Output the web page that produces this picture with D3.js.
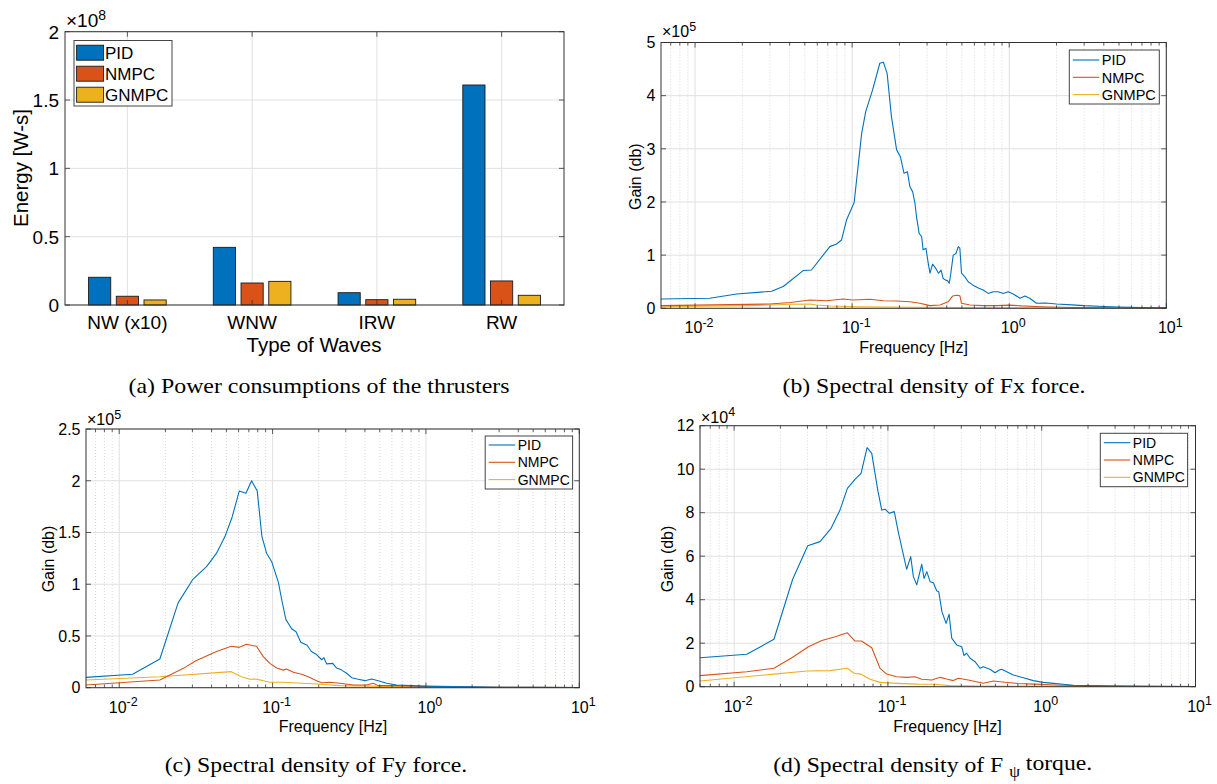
<!DOCTYPE html>
<html>
<head>
<meta charset="utf-8">
<script src="https://cdn.jsdelivr.net/npm/d3@7"></script>
<style>
  body { margin: 0; background: #fff; }
  text { font-family: "Liberation Sans", Arial, sans-serif; fill: #000; }
  text.cap { font-family: "Liberation Serif", "Times New Roman", serif; }
</style>
</head>
<body>
<svg id="fig" width="1217" height="784"></svg>
<script>
// ---------- data ----------
// (a) energy, units of 1e8 W-s
const waveTypes = ["NW (x10)", "WNW", "IRW", "RW"]
const controllers = ["PID", "NMPC", "GNMPC"]
const energyPID = [0.203, 0.422, 0.090, 1.61]
const energyNMPC = [0.064, 0.161, 0.039, 0.176]
const energyGNMPC = [0.037, 0.173, 0.042, 0.071]
const energyTicks = [0, 0.5, 1, 1.5, 2]

// (b) Fx spectral density, gain in units of 1e5
const fxFreqPID = [0.00607,0.0124,0.0184,0.0307,0.0364,0.0488,0.0551,0.0721,0.0796,0.0856,0.0921,0.103,0.109,0.115,0.122,0.135,0.150,0.158,0.167,0.178,0.192,0.203,0.214,0.225,0.233,0.243,0.251,0.257,0.267,0.277,0.283,0.295,0.305,0.313,0.325,0.341,0.355,0.368,0.380,0.394,0.405,0.415,0.425,0.440,0.458,0.474,0.485,0.497,0.522,0.548,0.585,0.635,0.683,0.735,0.791,0.851,0.916,0.985,1.06,1.17,1.26,1.35,1.49,1.7,2.0,2.5,3.0,4.0,5.0,7.0,10]
const fxGainPID = [0.175,0.188,0.27,0.32,0.41,0.71,0.72,1.16,1.21,1.285,1.66,1.99,2.66,3.29,3.70,4.11,4.61,4.63,4.42,3.60,2.98,2.85,2.54,2.57,2.29,2.19,1.98,1.72,1.41,1.35,1.10,1.13,0.85,0.66,0.83,0.75,0.66,0.72,0.56,0.53,0.52,0.47,0.66,1.00,1.03,1.16,1.13,0.66,0.59,0.50,0.44,0.38,0.345,0.28,0.31,0.31,0.28,0.31,0.27,0.19,0.23,0.19,0.094,0.10,0.08,0.065,0.05,0.035,0.025,0.012,0.008]
const fxFreqNMPC = [0.00607,0.0298,0.0404,0.0539,0.0685,0.0875,0.101,0.130,0.158,0.192,0.233,0.270,0.313,0.362,0.409,0.436,0.463,0.485,0.497,0.562,0.683,0.83,1.0,1.2,1.6,2.5,5.0,10]
const fxGainNMPC = [0.05,0.08,0.11,0.156,0.143,0.175,0.156,0.17,0.143,0.137,0.124,0.094,0.05,0.062,0.124,0.23,0.245,0.237,0.094,0.062,0.05,0.05,0.06,0.045,0.03,0.015,0.008,0.005]
const fxFreqGNMPC = [0.00607,0.0223,0.0404,0.0539,0.0593,0.072,0.107,0.257,1.0,5.0,10]
const fxGainGNMPC = [0.03,0.05,0.075,0.08,0.062,0.043,0.03,0.02,0.01,0.005,0.004]
const fxTicks = [0, 1, 2, 3, 4, 5]

// (c) Fy spectral density, gain in units of 1e5
const fyFreqPID = [0.00607,0.01222,0.0184,0.0242,0.0303,0.0371,0.0431,0.0489,0.0545,0.0606,0.0670,0.0730,0.0794,0.0852,0.0914,0.0985,0.109,0.1147,0.122,0.1331,0.1422,0.1527,0.1627,0.168,0.179,0.1935,0.209,0.216,0.2254,0.2467,0.2616,0.282,0.304,0.328,0.362,0.400,0.443,0.488,0.554,0.644,0.8,1.0,1.5,2.0,3.0,5.0,10]
const fyGainPID = [0.10,0.13,0.277,0.82,1.05,1.17,1.30,1.46,1.65,1.90,1.88,2.00,1.90,1.46,1.30,1.22,1.02,0.85,0.66,0.57,0.54,0.44,0.42,0.41,0.35,0.32,0.27,0.29,0.23,0.235,0.19,0.17,0.14,0.097,0.081,0.068,0.084,0.068,0.043,0.026,0.02,0.015,0.01,0.008,0.005,0.003,0.002]
const fyFreqNMPC = [0.00607,0.0184,0.0262,0.0316,0.0431,0.0537,0.0606,0.0676,0.0785,0.0869,0.096,0.1063,0.1175,0.123,0.1367,0.155,0.1707,0.1935,0.209,0.2365,0.2752,0.336,0.410,0.4535,0.488,0.644,1.0,2.0,5.0,10]
const fyGainNMPC = [0.026,0.074,0.187,0.26,0.35,0.40,0.39,0.42,0.40,0.30,0.235,0.19,0.17,0.18,0.15,0.13,0.106,0.068,0.048,0.052,0.043,0.026,0.026,0.043,0.02,0.02,0.012,0.006,0.003,0.002]
const fyFreqGNMPC = [0.00607,0.0184,0.0537,0.0626,0.0711,0.0766,0.0869,0.096,0.1175,0.1935,0.2752,0.644,2.0,10]
const fyGainGNMPC = [0.074,0.106,0.155,0.106,0.081,0.084,0.068,0.052,0.052,0.036,0.02,0.01,0.004,0.002]
const fyTicks = [0, 0.5, 1, 1.5, 2, 2.5]

// (d) F_psi spectral density, gain in units of 1e4
const fpFreqPID = [0.0060,0.01208,0.01816,0.02403,0.0301,0.0362,0.0427,0.0488,0.0545,0.0611,0.0669,0.0732,0.0785,0.0859,0.0912,0.0958,0.1022,0.110,0.1167,0.1247,0.1324,0.1407,0.1464,0.154,0.166,0.1717,0.179,0.188,0.1975,0.2075,0.214,0.2245,0.2388,0.250,0.260,0.280,0.302,0.3125,0.325,0.342,0.3685,0.397,0.417,0.461,0.497,0.530,0.549,0.654,0.76,0.882,1.024,1.19,1.38,1.60,2.0,3.0,5.0,10]
const fpGainPID = [1.33,1.49,2.18,4.94,6.48,6.67,7.28,8.12,9.12,9.53,9.81,10.99,10.73,9.04,8.12,8.16,7.97,8.05,7.13,6.21,5.40,5.98,5.06,4.68,5.63,4.98,5.29,4.83,4.78,4.41,4.37,3.45,2.91,3.33,2.23,1.92,1.84,1.43,1.54,1.31,1.15,0.85,0.92,0.80,0.64,0.77,0.80,0.54,0.41,0.28,0.20,0.155,0.11,0.064,0.05,0.035,0.02,0.01]
const fpFreqNMPC = [0.0060,0.01208,0.01816,0.0243,0.0304,0.0372,0.0454,0.0545,0.0611,0.0673,0.0785,0.0888,0.098,0.114,0.1324,0.150,0.166,0.193,0.2184,0.241,0.266,0.287,0.333,0.417,0.485,0.536,0.7,0.9,1.2,2.0,5.0,10]
const fpGainNMPC = [0.51,0.69,0.85,1.38,1.84,2.12,2.30,2.48,2.10,2.10,1.79,0.85,0.58,0.46,0.43,0.46,0.34,0.31,0.43,0.35,0.28,0.39,0.31,0.155,0.26,0.23,0.15,0.12,0.08,0.04,0.02,0.01]
const fpFreqGNMPC = [0.0060,0.01816,0.0297,0.0421,0.0545,0.0602,0.0664,0.0766,0.0888,0.114,0.154,0.1975,0.254,0.4,1.0,3.0,10]
const fpGainGNMPC = [0.26,0.58,0.72,0.74,0.85,0.62,0.58,0.34,0.20,0.155,0.12,0.11,0.05,0.03,0.02,0.01,0.005]
const fpTicks = [0, 2, 4, 6, 8, 10, 12]

const freqMajor = [0.01, 0.1, 1, 10]
const freqExp = ["-2", "-1", "0", "1"]

// ---------- style ----------
const colors = {PID: "#0072BD", NMPC: "#D95319", GNMPC: "#EDB120"}
const axisColor = "#333333"
const gridColor = "#e0e0e0"
const minorGridColor = "#cfcfcf"

const svg = d3.select("#fig")

const sup = (sel, base, exp, expSize) => {
    sel.text(base)
    sel.append("tspan").attr("dy", "-0.5em").style("font-size", expSize).text(exp)
}

const grid = (g, box, xs, ys, yTicks, xMajor, xMinor) => {
    g.selectAll(".gx").data(xMajor).join("line")
        .attr("x1", d => xs(d)).attr("x2", d => xs(d))
        .attr("y1", box.top).attr("y2", box.bottom)
        .attr("stroke", gridColor).attr("stroke-width", 1)
    if (xMinor) {
        g.selectAll(".gxm").data(xMinor).join("line")
            .attr("x1", d => xs(d)).attr("x2", d => xs(d))
            .attr("y1", box.top).attr("y2", box.bottom)
            .attr("stroke", minorGridColor).attr("stroke-width", 0.8)
            .attr("stroke-dasharray", "1,2")
    }
    g.selectAll(".gy").data(yTicks).join("line")
        .attr("x1", box.left).attr("x2", box.right)
        .attr("y1", d => ys(d)).attr("y2", d => ys(d))
        .attr("stroke", gridColor).attr("stroke-width", 1)
}

const frame = (g, box, xs, ys, yTicks, xMajor, xMinor) => {
    const t = 5, tm = 3
    const tk = g.append("g").attr("stroke", axisColor).attr("stroke-width", 0.8)
    xMajor.forEach(d => {
        tk.append("line").attr("x1", xs(d)).attr("x2", xs(d)).attr("y1", box.bottom).attr("y2", box.bottom - t)
        tk.append("line").attr("x1", xs(d)).attr("x2", xs(d)).attr("y1", box.top).attr("y2", box.top + t)
    })
    if (xMinor) xMinor.forEach(d => {
        tk.append("line").attr("x1", xs(d)).attr("x2", xs(d)).attr("y1", box.bottom).attr("y2", box.bottom - tm)
        tk.append("line").attr("x1", xs(d)).attr("x2", xs(d)).attr("y1", box.top).attr("y2", box.top + tm)
    })
    yTicks.forEach(d => {
        tk.append("line").attr("x1", box.left).attr("x2", box.left + t).attr("y1", ys(d)).attr("y2", ys(d))
        tk.append("line").attr("x1", box.right).attr("x2", box.right - t).attr("y1", ys(d)).attr("y2", ys(d))
    })
    g.append("rect")
        .attr("x", box.left).attr("y", box.top)
        .attr("width", box.right - box.left).attr("height", box.bottom - box.top)
        .attr("fill", "none").attr("stroke", axisColor).attr("stroke-width", 1)
}

// ---------- (a) bar chart ----------
const barPanel = () => {
    const box = {left: 65, right: 564, top: 31.7, bottom: 305}
    const g = svg.append("g")
    const xs = d3.scaleLinear().domain([0.5, 4.5]).range([box.left, box.right])
    const ys = d3.scaleLinear().domain([0, 2]).range([box.bottom, box.top])
    const inner = d3.scaleBand().domain(controllers).range([-1/3, 1/3]).paddingInner(0.2).paddingOuter(0.1)
    const pos = waveTypes.map((_, i) => i + 1)
    const bw = xs(inner.bandwidth()) - xs(0)

    grid(g, box, xs, ys, energyTicks, pos, null)

    const series = {PID: energyPID, NMPC: energyNMPC, GNMPC: energyGNMPC}
    controllers.forEach(c => {
        g.selectAll(".bar-" + c).data(series[c]).join("rect")
            .attr("x", (d, i) => xs(pos[i] + inner(c)))
            .attr("y", d => ys(d))
            .attr("width", bw)
            .attr("height", d => ys(0) - ys(d))
            .attr("fill", colors[c])
            .attr("stroke", "#1a1a1a").attr("stroke-width", 0.9)
    })

    frame(g, box, xs, ys, energyTicks, pos, null)

    g.selectAll(".ytl").data(energyTicks).join("text")
        .attr("x", box.left - 6).attr("y", d => ys(d)).attr("dy", "0.36em")
        .attr("text-anchor", "end").style("font-size", "19px")
        .text(d => d)
    g.selectAll(".xtl").data(waveTypes).join("text")
        .attr("x", (d, i) => xs(pos[i])).attr("y", box.bottom + 24)
        .attr("text-anchor", "middle").style("font-size", "19px")
        .text(d => d)
    g.append("text").attr("x", 314).attr("y", 351.5)
        .attr("text-anchor", "middle").style("font-size", "20.5px").text("Type of Waves")
    g.append("text").attr("transform", "translate(28,168) rotate(-90)")
        .attr("text-anchor", "middle").style("font-size", "20.5px").text("Energy [W-s]")
    g.append("text").attr("x", box.left + 1).attr("y", 26.5).style("font-size", "19px")
        .call(sup, "\u00d710", "8", "14px")

    // legend
    const lg = g.append("g")
    lg.append("rect").attr("x", 74).attr("y", 40.5).attr("width", 98).attr("height", 65.5)
        .attr("fill", "#fff").attr("stroke", "#444").attr("stroke-width", 1)
    controllers.forEach((c, i) => {
        const cy = 52.7 + i * 21
        lg.append("rect").attr("x", 76.6).attr("y", cy - 7.5).attr("width", 27).attr("height", 15)
            .attr("fill", colors[c]).attr("stroke", "#1a1a1a").attr("stroke-width", 0.9)
        lg.append("text").attr("x", 105).attr("y", cy).attr("dy", "0.36em")
            .style("font-size", "17px").text(c)
    })

    svg.append("text").attr("class", "cap").attr("x", 319).attr("y", 393)
        .attr("text-anchor", "middle").style("font-size", "22px")
        .attr("textLength", 381).attr("lengthAdjust", "spacingAndGlyphs")
        .text("(a) Power consumptions of the thrusters")
}

// ---------- spectral panels ----------
const spectrumPanel = (cfg) => {
    const box = cfg.box
    const g = svg.append("g")
    const xs = d3.scaleLog().domain([cfg.fmin, 10]).range([box.left, box.right])
    const ys = d3.scaleLinear().domain([0, cfg.ymax]).range([box.bottom, box.top])
    const minor = xs.ticks().filter(d => !freqMajor.some(m => Math.abs(m - d) < 1e-9))
    const clipId = "clip-" + cfg.id

    grid(g, box, xs, ys, cfg.yTicks, freqMajor, minor)

    g.append("clipPath").attr("id", clipId).append("rect")
        .attr("x", box.left).attr("y", box.top)
        .attr("width", box.right - box.left).attr("height", box.bottom - box.top)

    const line = d3.line().x(d => xs(d[0])).y(d => ys(d[1]))
    // GNMPC first so PID sits on top
    cfg.series.slice().reverse().forEach(s => {
        g.append("path").attr("d", line(d3.zip(s.f, s.g)))
            .attr("clip-path", `url(#${clipId})`)
            .attr("fill", "none").attr("stroke", colors[s.name])
            .attr("stroke-width", 1.1).attr("stroke-linejoin", "round")
    })

    frame(g, box, xs, ys, cfg.yTicks, freqMajor, minor)

    g.selectAll(".ytl").data(cfg.yTicks).join("text")
        .attr("x", box.left - 5.5).attr("y", d => ys(d)).attr("dy", "0.36em")
        .attr("text-anchor", "end").style("font-size", cfg.tickSize)
        .text(d => d)
    freqMajor.forEach((d, i) => {
        g.append("text").attr("x", xs(d) + 4).attr("y", box.bottom + 25)
            .attr("text-anchor", "middle").style("font-size", cfg.tickSize)
            .call(sup, "10", freqExp[i], "12.5px")
    })
    g.append("text").attr("x", cfg.xlab[0]).attr("y", cfg.xlab[1])
        .attr("text-anchor", "middle").style("font-size", cfg.labSize).text("Frequency [Hz]")
    g.append("text").attr("transform", `translate(${cfg.ylab[0]},${cfg.ylab[1]}) rotate(-90)`)
        .attr("text-anchor", "middle").style("font-size", cfg.labSize).text("Gain (db)")
    g.append("text").attr("x", box.left + 1).attr("y", cfg.expY).style("font-size", "16px")
        .call(sup, "\u00d710", cfg.exp, "12.5px")

    // legend
    const L = cfg.legend
    const lg = g.append("g")
    lg.append("rect").attr("x", L.x).attr("y", L.y).attr("width", L.w).attr("height", L.h)
        .attr("fill", "#fff").attr("stroke", "#444").attr("stroke-width", 1)
    cfg.series.forEach((s, i) => {
        const cy = L.row0 + i * L.step
        lg.append("line").attr("x1", L.x + 3.5).attr("x2", L.x + 30).attr("y1", cy).attr("y2", cy)
            .attr("stroke", colors[s.name]).attr("stroke-width", 1.1)
        lg.append("text").attr("x", L.x + 32.5).attr("y", cy).attr("dy", "0.36em")
            .style("font-size", L.size).text(s.name)
    })

    const cap = svg.append("text").attr("class", "cap").attr("x", cfg.cap.x).attr("y", cfg.cap.y)
        .attr("text-anchor", "middle").style("font-size", "22px")
        .attr("textLength", cfg.cap.w).attr("lengthAdjust", "spacingAndGlyphs")
    cap.text(cfg.cap.text)
    if (cfg.cap.sub) {
        cap.append("tspan").attr("dy", "0.35em").style("font-size", "16px").text(cfg.cap.sub)
        cap.append("tspan").attr("dy", "-0.35em").text(cfg.cap.rest)
    }
}

barPanel()

spectrumPanel({
    id: "b", box: {left: 661, right: 1166.3, top: 42.5, bottom: 308.3}, fmin: 0.00607,
    ymax: 5, yTicks: fxTicks, exp: "5", expY: 37.3,
    tickSize: "16px", labSize: "16px",
    xlab: [913.6, 353.2], ylab: [641, 176.7],
    legend: {x: 1069.3, y: 50, w: 90, h: 54, row0: 60, step: 17.3, size: "14.5px"},
    cap: {x: 934, y: 393, w: 303, text: "(b) Spectral density of Fx force."},
    series: [
        {name: "PID", f: fxFreqPID, g: fxGainPID},
        {name: "NMPC", f: fxFreqNMPC, g: fxGainNMPC},
        {name: "GNMPC", f: fxFreqGNMPC, g: fxGainGNMPC}
    ]
})

spectrumPanel({
    id: "c", box: {left: 86, right: 579.3, top: 429, bottom: 687.7}, fmin: 0.00607,
    ymax: 2.5, yTicks: fyTicks, exp: "5", expY: 425,
    tickSize: "16px", labSize: "16px",
    xlab: [333, 731.7], ylab: [53.5, 559],
    legend: {x: 485.2, y: 436, w: 87.4, h: 53, row0: 445, step: 17.3, size: "14px"},
    cap: {x: 316, y: 771.7, w: 302.6, text: "(c) Spectral density of Fy force."},
    series: [
        {name: "PID", f: fyFreqPID, g: fyGainPID},
        {name: "NMPC", f: fyFreqNMPC, g: fyGainNMPC},
        {name: "GNMPC", f: fyFreqGNMPC, g: fyGainGNMPC}
    ]
})

spectrumPanel({
    id: "d", box: {left: 700, right: 1195.5, top: 425.7, bottom: 686.7}, fmin: 0.0060,
    ymax: 12, yTicks: fpTicks, exp: "4", expY: 422.7,
    tickSize: "16px", labSize: "16px",
    xlab: [947.5, 731.7], ylab: [673, 559],
    legend: {x: 1100.3, y: 433.3, w: 87.3, h: 53.4, row0: 442.7, step: 17.3, size: "14px"},
    cap: {x: 932.7, y: 771.7, w: 319, text: "(d) Spectral density of F ", sub: "\u03c8", rest: " torque."},
    series: [
        {name: "PID", f: fpFreqPID, g: fpGainPID},
        {name: "NMPC", f: fpFreqNMPC, g: fpGainNMPC},
        {name: "GNMPC", f: fpFreqGNMPC, g: fpGainGNMPC}
    ]
})
</script>
</body>
</html>
